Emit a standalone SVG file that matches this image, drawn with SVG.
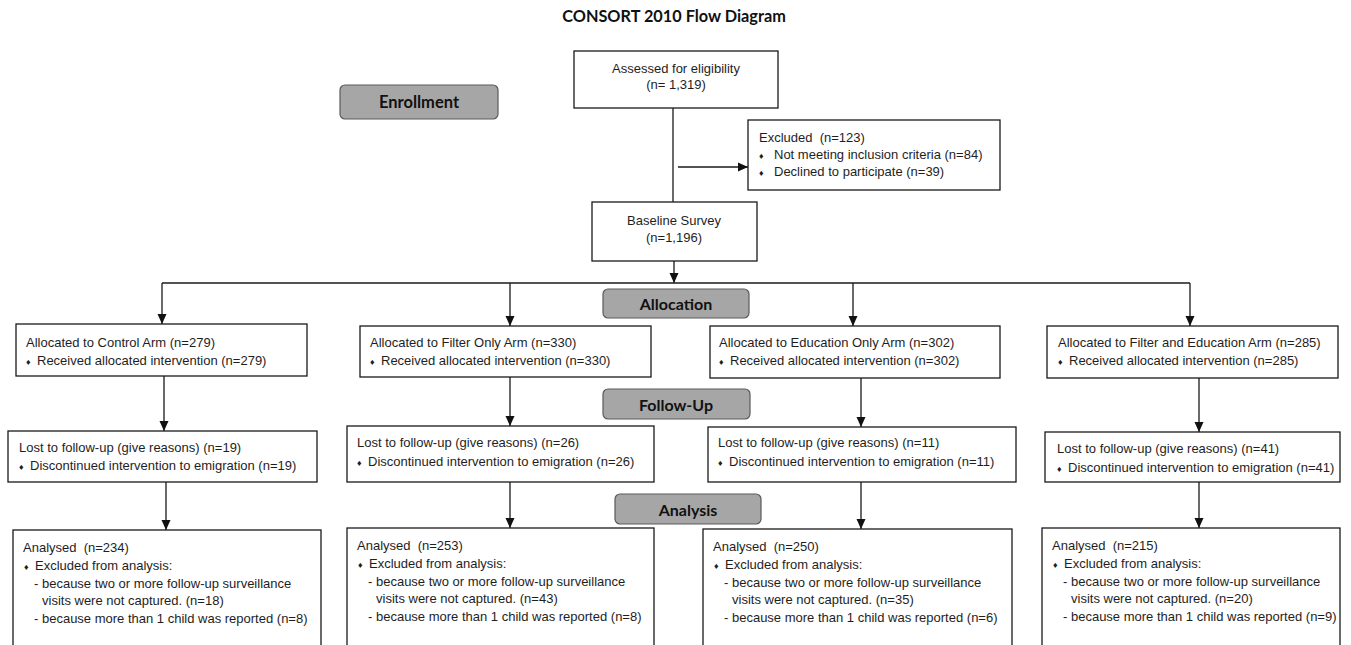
<svg xmlns="http://www.w3.org/2000/svg" width="1351" height="645" viewBox="0 0 1351 645">
<style>
.box{fill:#fff;stroke:#1a1a1a;stroke-width:1.3}
.lab{fill:#a6a6a6;stroke:#5a5a5a;stroke-width:1.2}
.t{font-family:"Liberation Sans",Arial,sans-serif;font-size:13px;fill:#1e1e1e}
.c{text-anchor:middle}
.b{font-size:9px}
.h{font-family:Lato,"Open Sans",sans-serif;font-weight:bold;font-size:16px;fill:#111;text-anchor:middle}
.ln{stroke:#1a1a1a;stroke-width:1.3;fill:none}
</style>
<defs>
<marker id="ah" markerUnits="userSpaceOnUse" markerWidth="10" markerHeight="10" refX="10" refY="5" orient="auto">
<path d="M0,0.5 L10,5 L0,9.5 z" fill="#111"/>
</marker>
</defs>
<text class="h" x="674" y="22" style="font-size:16.3px">CONSORT 2010 Flow Diagram</text>

<g id="connectors">
<line class="ln" x1="673" y1="108" x2="673" y2="202"/>
<line class="ln" x1="678" y1="167" x2="748" y2="167" marker-end="url(#ah)"/>
<line class="ln" x1="674" y1="261" x2="674" y2="283" marker-end="url(#ah)"/>
<line class="ln" x1="162" y1="283" x2="1190" y2="283"/>
<line class="ln" x1="162" y1="283" x2="162" y2="324" marker-end="url(#ah)"/>
<line class="ln" x1="510" y1="283" x2="510" y2="326" marker-end="url(#ah)"/>
<line class="ln" x1="853" y1="283" x2="853" y2="326" marker-end="url(#ah)"/>
<line class="ln" x1="1190" y1="283" x2="1190" y2="326" marker-end="url(#ah)"/>
<line class="ln" x1="164" y1="376" x2="164" y2="431" marker-end="url(#ah)"/>
<line class="ln" x1="510" y1="377" x2="510" y2="426" marker-end="url(#ah)"/>
<line class="ln" x1="861" y1="378" x2="861" y2="427" marker-end="url(#ah)"/>
<line class="ln" x1="1199" y1="378" x2="1199" y2="432" marker-end="url(#ah)"/>
<line class="ln" x1="166" y1="482" x2="166" y2="530" marker-end="url(#ah)"/>
<line class="ln" x1="510" y1="482" x2="510" y2="528" marker-end="url(#ah)"/>
<line class="ln" x1="861" y1="482" x2="861" y2="529" marker-end="url(#ah)"/>
<line class="ln" x1="1199" y1="482" x2="1199" y2="528" marker-end="url(#ah)"/>
</g>

<g id="assessed">
<rect class="box" x="574" y="51" width="204" height="57"/>
<text class="t c" x="676" y="73">Assessed for eligibility</text>
<text class="t c" x="676" y="89">(n= 1,319)</text>
</g>
<g id="enrollment">
<rect class="lab" x="340" y="85" width="158" height="34" rx="5"/>
<text class="h" x="419" y="108" style="font-size:16.5px">Enrollment</text>
</g>
<g id="excluded">
<rect class="box" x="748" y="120" width="252" height="70"/>
<text class="t" x="759" y="142" xml:space="preserve">Excluded  (n=123)</text>
<text class="t" x="759" y="159"><tspan class="b">♦</tspan><tspan x="774">Not meeting inclusion criteria (n=84)</tspan></text>
<text class="t" x="759" y="176"><tspan class="b">♦</tspan><tspan x="774">Declined to participate (n=39)</tspan></text>
</g>
<g id="baseline">
<rect class="box" x="592" y="202" width="165" height="59"/>
<text class="t c" x="674" y="225">Baseline Survey</text>
<text class="t c" x="674" y="242">(n=1,196)</text>
</g>
<g id="allocation">
<rect class="lab" x="603" y="289" width="146" height="29" rx="5"/>
<text class="h" x="676" y="310">Allocation</text>
</g>
<g id="followup">
<rect class="lab" x="603" y="389" width="147" height="30" rx="5"/>
<text class="h" x="676" y="411">Follow-Up</text>
</g>
<g id="analysis">
<rect class="lab" x="615" y="494" width="146" height="30" rx="5"/>
<text class="h" x="688" y="516">Analysis</text>
</g>

<g id="alloc-control">
<rect class="box" x="16" y="324" width="291" height="52"/>
<text class="t" x="26" y="347">Allocated to Control Arm (n=279)</text>
<text class="t" x="26" y="365"><tspan class="b">♦</tspan><tspan x="37">Received allocated intervention (n=279)</tspan></text>
</g>
<g id="alloc-filter">
<rect class="box" x="360" y="326" width="291" height="51"/>
<text class="t" x="370" y="347">Allocated to Filter Only Arm (n=330)</text>
<text class="t" x="370" y="365"><tspan class="b">♦</tspan><tspan x="381">Received allocated intervention (n=330)</tspan></text>
</g>
<g id="alloc-education">
<rect class="box" x="710" y="326" width="290" height="52"/>
<text class="t" x="719" y="347">Allocated to Education Only Arm (n=302)</text>
<text class="t" x="719" y="365"><tspan class="b">♦</tspan><tspan x="730">Received allocated intervention (n=302)</tspan></text>
</g>
<g id="alloc-both">
<rect class="box" x="1047" y="326" width="291" height="52"/>
<text class="t" x="1058" y="347">Allocated to Filter and Education Arm (n=285)</text>
<text class="t" x="1058" y="365"><tspan class="b">♦</tspan><tspan x="1069">Received allocated intervention (n=285)</tspan></text>
</g>

<g id="lost-control">
<rect class="box" x="8" y="431" width="309" height="51"/>
<text class="t" x="19" y="452">Lost to follow-up (give reasons) (n=19)</text>
<text class="t" x="19" y="470"><tspan class="b">♦</tspan><tspan x="30">Discontinued intervention to emigration (n=19)</tspan></text>
</g>
<g id="lost-filter">
<rect class="box" x="347" y="426" width="307" height="56"/>
<text class="t" x="357" y="447">Lost to follow-up (give reasons) (n=26)</text>
<text class="t" x="357" y="466"><tspan class="b">♦</tspan><tspan x="368">Discontinued intervention to emigration (n=26)</tspan></text>
</g>
<g id="lost-education">
<rect class="box" x="708" y="427" width="308" height="55"/>
<text class="t" x="718" y="447">Lost to follow-up (give reasons) (n=11)</text>
<text class="t" x="718" y="466"><tspan class="b">♦</tspan><tspan x="729">Discontinued intervention to emigration (n=11)</tspan></text>
</g>
<g id="lost-both">
<rect class="box" x="1045" y="432" width="295" height="50"/>
<text class="t" x="1057" y="453">Lost to follow-up (give reasons) (n=41)</text>
<text class="t" x="1057" y="472"><tspan class="b">♦</tspan><tspan x="1068">Discontinued intervention to emigration (n=41)</tspan></text>
</g>

<g id="analysed-control">
<rect class="box" x="13" y="530" width="308" height="125"/>
<text class="t" x="23" y="552" xml:space="preserve">Analysed  (n=234)</text>
<text class="t" x="24" y="570"><tspan class="b">♦</tspan><tspan x="35">Excluded from analysis:</tspan></text>
<text class="t" x="34" y="588">- because two or more follow-up surveillance</text>
<text class="t" x="42" y="605">visits were not captured. (n=18)</text>
<text class="t" x="34" y="623">- because more than 1 child was reported (n=8)</text>
</g>
<g id="analysed-filter">
<rect class="box" x="347" y="528" width="307" height="125"/>
<text class="t" x="357" y="550" xml:space="preserve">Analysed  (n=253)</text>
<text class="t" x="358" y="568"><tspan class="b">♦</tspan><tspan x="369">Excluded from analysis:</tspan></text>
<text class="t" x="368" y="586">- because two or more follow-up surveillance</text>
<text class="t" x="376" y="603">visits were not captured. (n=43)</text>
<text class="t" x="368" y="621">- because more than 1 child was reported (n=8)</text>
</g>
<g id="analysed-education">
<rect class="box" x="703" y="529" width="309" height="125"/>
<text class="t" x="713" y="551" xml:space="preserve">Analysed  (n=250)</text>
<text class="t" x="714" y="569"><tspan class="b">♦</tspan><tspan x="725">Excluded from analysis:</tspan></text>
<text class="t" x="724" y="587">- because two or more follow-up surveillance</text>
<text class="t" x="732" y="604">visits were not captured. (n=35)</text>
<text class="t" x="724" y="622">- because more than 1 child was reported (n=6)</text>
</g>
<g id="analysed-both">
<rect class="box" x="1042" y="528" width="298" height="125"/>
<text class="t" x="1052" y="550" xml:space="preserve">Analysed  (n=215)</text>
<text class="t" x="1053" y="568"><tspan class="b">♦</tspan><tspan x="1064">Excluded from analysis:</tspan></text>
<text class="t" x="1063" y="586">- because two or more follow-up surveillance</text>
<text class="t" x="1071" y="603">visits were not captured. (n=20)</text>
<text class="t" x="1063" y="621">- because more than 1 child was reported (n=9)</text>
</g>
</svg>
